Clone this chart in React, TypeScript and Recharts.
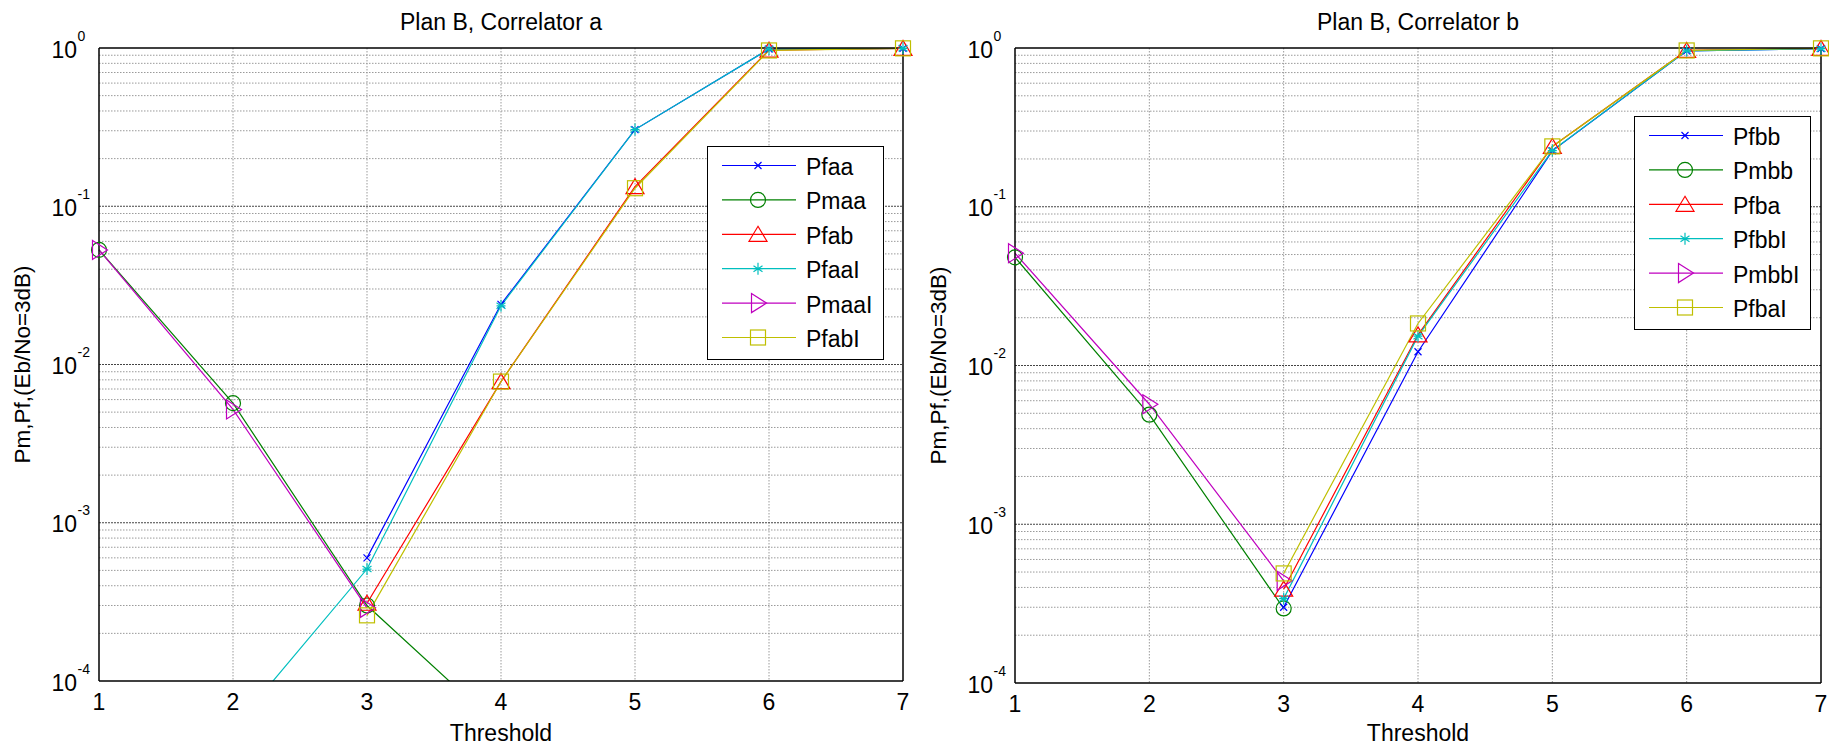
import React from "react";
import { CartesianGrid, Legend, Line, LineChart, XAxis, YAxis } from "recharts";

const FONT = "'Liberation Sans', Arial, Helvetica, sans-serif";

const thresholds = [1, 2, 3, 4, 5, 6, 7];

// Plan B, Correlator a
const pfaa = [null, null, 6.0e-4, 0.024, 0.305, 0.985, 0.995];
const pmaa = [0.053, 0.0057, 3.0e-4, 5.0e-5, null, null, null];
const pfab = [null, null, 3.1e-4, 0.0078, 0.133, 0.97, 0.995];
const pfaal = [null, 5.0e-5, 5.1e-4, 0.0235, 0.305, 0.985, 0.995];
const pmaal = [0.053, 0.0052, 2.9e-4, null, null, null, null];
const pfabl = [null, null, 2.6e-4, 0.0078, 0.13, 0.965, 0.995];

// Plan B, Correlator b
const pfbb = [null, null, 3.0e-4, 0.0122, 0.225, 0.96, 0.99];
const pmbb = [0.048, 0.0049, 2.95e-4, null, null, null, null];
const pfba = [null, null, 3.9e-4, 0.0156, 0.24, 0.965, 0.995];
const pfbbl = [null, null, 3.4e-4, 0.0153, 0.226, 0.96, 0.99];
const pmbbl = [0.051, 0.0057, 4.4e-4, null, null, null, null];
const pfbal = [null, null, 4.9e-4, 0.0184, 0.24, 0.965, 0.995];

const decadeTicks = [1e-4, 1e-3, 1e-2, 1e-1, 1];
const innerDecades = [1e-3, 1e-2, 1e-1];
const minorTicks = [
  2e-4, 3e-4, 4e-4, 5e-4, 6e-4, 7e-4, 8e-4, 9e-4,
  2e-3, 3e-3, 4e-3, 5e-3, 6e-3, 7e-3, 8e-3, 9e-3,
  2e-2, 3e-2, 4e-2, 5e-2, 6e-2, 7e-2, 8e-2, 9e-2,
  0.2, 0.3, 0.4, 0.5, 0.6, 0.7, 0.8, 0.9,
];
const allYTicks = [...decadeTicks, ...minorTicks];
const innerThresholds = [2, 3, 4, 5, 6];

type Marker = "x" | "o" | "^" | "*" | ">" | "s";
type Series = {
  key: string;
  name: string;
  color: string;
  marker: Marker;
  values: (number | null)[];
};

const BLUE = "#0000ff";
const GREEN = "#008000";
const RED = "#ff0000";
const CYAN = "#00bfbf";
const MAGENTA = "#bf00bf";
const YELLOW = "#bfbf00";

const seriesA: Series[] = [
  { key: "pfaa", name: "Pfaa", color: BLUE, marker: "x", values: pfaa },
  { key: "pmaa", name: "Pmaa", color: GREEN, marker: "o", values: pmaa },
  { key: "pfab", name: "Pfab", color: RED, marker: "^", values: pfab },
  { key: "pfaal", name: "PfaaI", color: CYAN, marker: "*", values: pfaal },
  { key: "pmaal", name: "PmaaI", color: MAGENTA, marker: ">", values: pmaal },
  { key: "pfabl", name: "PfabI", color: YELLOW, marker: "s", values: pfabl },
];

const seriesB: Series[] = [
  { key: "pfbb", name: "Pfbb", color: BLUE, marker: "x", values: pfbb },
  { key: "pmbb", name: "Pmbb", color: GREEN, marker: "o", values: pmbb },
  { key: "pfba", name: "Pfba", color: RED, marker: "^", values: pfba },
  { key: "pfbbl", name: "PfbbI", color: CYAN, marker: "*", values: pfbbl },
  { key: "pmbbl", name: "PmbbI", color: MAGENTA, marker: ">", values: pmbbl },
  { key: "pfbal", name: "PfbaI", color: YELLOW, marker: "s", values: pfbal },
];

function buildRows(series: Series[]) {
  return thresholds.map((x, i) => {
    const row: Record<string, number | null> = { x };
    series.forEach((s) => (row[s.key] = s.values[i]));
    return row;
  });
}

function MarkerShape({ type, cx, cy, color }: { type: Marker; cx: number; cy: number; color: string }) {
  const common = { stroke: color, strokeWidth: 1.2, fill: "none" };
  switch (type) {
    case "x":
      return <path d={`M${cx - 3.5},${cy - 3.5}L${cx + 3.5},${cy + 3.5}M${cx - 3.5},${cy + 3.5}L${cx + 3.5},${cy - 3.5}`} {...common} />;
    case "o":
      return <circle cx={cx} cy={cy} r={7.5} {...common} />;
    case "^":
      return <polygon points={`${cx},${cy - 8} ${cx + 9},${cy + 7} ${cx - 9},${cy + 7}`} {...common} />;
    case "*":
      return (
        <path
          d={`M${cx},${cy - 6}L${cx},${cy + 6}M${cx - 4.5},${cy - 3}L${cx + 4.5},${cy + 3}M${cx - 4.5},${cy + 3}L${cx + 4.5},${cy - 3}M${cx - 4.5},${cy}L${cx + 4.5},${cy}`}
          {...common}
        />
      );
    case ">":
      return <polygon points={`${cx - 6.5},${cy - 9.5} ${cx + 8.5},${cy} ${cx - 6.5},${cy + 9.5}`} {...common} />;
    default:
      return <rect x={cx - 7.5} y={cy - 7.5} width={15} height={15} {...common} />;
  }
}

function LegendBox({ series }: { series: Series[] }) {
  return (
    <div
      style={{
        width: 177,
        height: 214,
        border: "1.5px solid #000",
        background: "#fff",
        boxSizing: "border-box",
      }}
    >
      <svg width={174} height={211} style={{ display: "block" }}>
        {series.map((s, i) => {
          const cy = 18.5 + i * 34.4;
          return (
            <g key={s.key}>
              <line x1={14} x2={88} y1={cy} y2={cy} stroke={s.color} strokeWidth={1.2} />
              <MarkerShape type={s.marker} cx={50} cy={cy} color={s.color} />
              <text x={98} y={cy + 9.5} fontSize={23} fontFamily={FONT} fill="#000">
                {s.name}
              </text>
            </g>
          );
        })}
      </svg>
    </div>
  );
}

const XTick = (props: any) => {
  const { x, y, payload } = props;
  return (
    <text x={x} y={y + 29} textAnchor="middle" fontSize={23} fontFamily={FONT} fill="#000">
      {payload.value}
    </text>
  );
};

const YTick = (props: any) => {
  const { x, y, payload } = props;
  const exp = Math.round(Math.log10(payload.value));
  return (
    <g>
      <text x={x - 22} y={y + 9.5} textAnchor="end" fontSize={23} fontFamily={FONT} fill="#000">
        10
      </text>
      <text x={x - 21.5} y={y - 7.5} textAnchor="start" fontSize={14} fontFamily={FONT} fill="#000">
        {exp}
      </text>
    </g>
  );
};

const inRange = (v: number | null | undefined) =>
  v != null && v >= 1e-4 && v <= 1 ? v : null;

type PanelProps = {
  title: string;
  series: Series[];
  width: number;
  plotLeft: number;
  plotRight: number;
  plotBottom: number;
  legendLeft: number;
  legendTop: number;
};

function Panel({ title, series, width, plotLeft, plotRight, plotBottom, legendLeft, legendTop }: PanelProps) {
  const data = buildRows(series);
  const top = 48;
  const yAxisW = 60;
  const xAxisH = 30;
  const midX = (plotLeft + plotRight) / 2;
  const midY = (top + plotBottom) / 2;
  const axisStyle = { stroke: "#000", strokeWidth: 1.5 };
  return (
    <LineChart
      width={width}
      height={745}
      data={data}
      margin={{ top, right: width - plotRight, bottom: 745 - plotBottom - xAxisH, left: plotLeft - yAxisW }}
    >
      <CartesianGrid
        horizontalValues={minorTicks}
        verticalValues={innerThresholds}
        stroke="#9a9a9a"
        strokeDasharray="1.5 1.5"
        strokeWidth={1}
      />
      <CartesianGrid
        horizontalValues={innerDecades}
        vertical={false}
        stroke="#444"
        strokeDasharray="2 1"
        strokeWidth={1}
      />
      <XAxis
        dataKey="x"
        type="number"
        domain={[1, 7]}
        ticks={thresholds}
        interval={0}
        tickLine={false}
        tickSize={0}
        tickMargin={0}
        tick={XTick}
        height={xAxisH}
        axisLine={axisStyle}
      />
      <XAxis
        xAxisId="top"
        orientation="top"
        mirror
        type="number"
        domain={[1, 7]}
        allowDataOverflow
        ticks={thresholds}
        interval={0}
        tick={false}
        tickSize={7}
        tickLine={{ stroke: "#000" }}
        axisLine={axisStyle}
      />
      <XAxis
        xAxisId="bot"
        orientation="bottom"
        mirror
        type="number"
        domain={[1, 7]}
        allowDataOverflow
        ticks={thresholds}
        interval={0}
        tick={false}
        tickSize={7}
        tickLine={{ stroke: "#000" }}
        axisLine={false}
      />
      <YAxis
        scale="log"
        domain={[1e-4, 1]}
        allowDataOverflow
        ticks={decadeTicks}
        interval={0}
        tickLine={false}
        tickSize={0}
        tickMargin={0}
        tick={YTick}
        width={yAxisW}
        axisLine={axisStyle}
      />
      <YAxis
        yAxisId="l"
        mirror
        scale="log"
        domain={[1e-4, 1]}
        allowDataOverflow
        ticks={allYTicks}
        interval={0}
        tick={false}
        tickSize={7}
        tickLine={{ stroke: "#000" }}
        axisLine={false}
      />
      <YAxis
        yAxisId="r"
        orientation="right"
        mirror
        scale="log"
        domain={[1e-4, 1]}
        allowDataOverflow
        ticks={allYTicks}
        interval={0}
        tick={false}
        tickSize={7}
        tickLine={{ stroke: "#000" }}
        axisLine={axisStyle}
      />
      <YAxis yAxisId="m" hide scale="log" domain={[1e-4, 1]} />
      {series.map((s) => (
        <Line
          key={s.key}
          dataKey={s.key}
          stroke={s.color}
          strokeWidth={1.2}
          dot={false}
          activeDot={false}
          isAnimationActive={false}
        />
      ))}
      {series.map((s) => (
        <Line
          key={s.key + "-m"}
          yAxisId="m"
          dataKey={(row: any) => inRange(row[s.key])}
          stroke="none"
          legendType="none"
          activeDot={false}
          isAnimationActive={false}
          dot={(p: any) =>
            p.cy == null || p.value == null ? (
              <g key={`${s.key}-d${p.index}`} />
            ) : (
              <MarkerShape key={`${s.key}-d${p.index}`} type={s.marker} cx={p.cx} cy={p.cy} color={s.color} />
            )
          }
        />
      ))}
      <Legend
        layout="vertical"
        align="center"
        verticalAlign="middle"
        wrapperStyle={{ left: legendLeft, top: legendTop, width: 177, height: 214 }}
        content={() => <LegendBox series={series} />}
      />
      <text x={midX} y={30} textAnchor="middle" fontSize={23} fontFamily={FONT} fill="#000">
        {title}
      </text>
      <text x={midX} y={741} textAnchor="middle" fontSize={23} fontFamily={FONT} fill="#000">
        Threshold
      </text>
      <text
        transform={`translate(${plotLeft - 69},${midY}) rotate(-90)`}
        textAnchor="middle"
        fontSize={22.5}
        fontFamily={FONT}
        fill="#000"
      >
        Pm,Pf,(Eb/No=3dB)
      </text>
    </LineChart>
  );
}

export default function App() {
  return (
    <div style={{ position: "absolute", left: 0, top: 0, width: 1829, height: 745, background: "#fff" }}>
      <div style={{ position: "absolute", left: 0, top: 0 }}>
        <Panel
          title="Plan B, Correlator a"
          series={seriesA}
          width={915}
          plotLeft={99}
          plotRight={903}
          plotBottom={681}
          legendLeft={707}
          legendTop={146}
        />
      </div>
      <div style={{ position: "absolute", left: 915, top: 0 }}>
        <Panel
          title="Plan B, Correlator b"
          series={seriesB}
          width={914}
          plotLeft={100}
          plotRight={906}
          plotBottom={683}
          legendLeft={719}
          legendTop={116}
        />
      </div>
    </div>
  );
}
